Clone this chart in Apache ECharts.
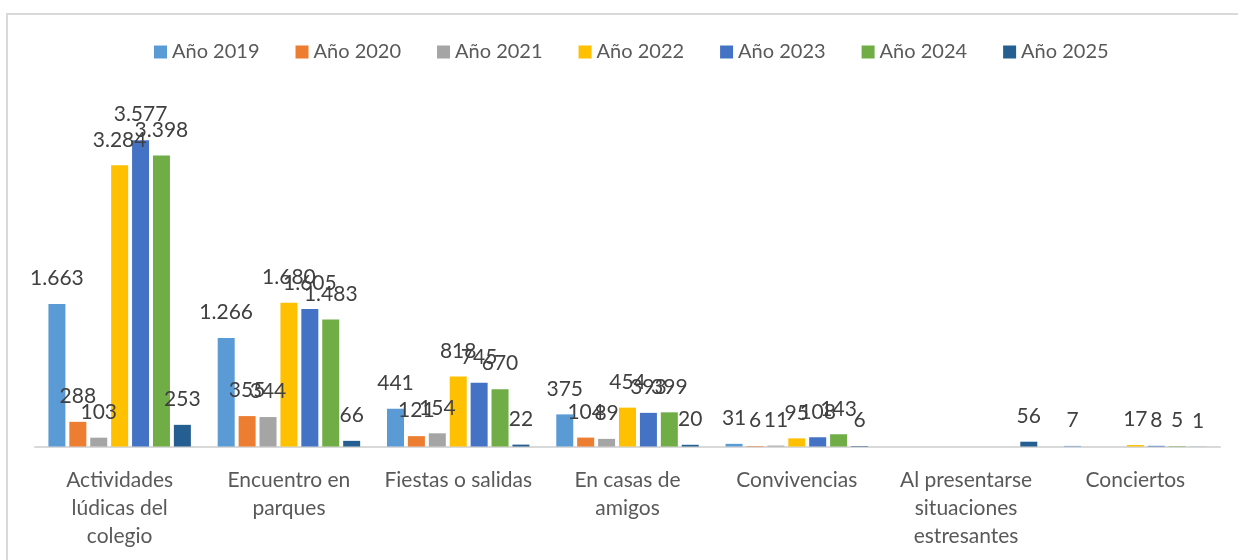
<!DOCTYPE html>
<html>
<head>
<meta charset="utf-8">
<script src="https://cdn.jsdelivr.net/npm/echarts@6/dist/echarts.min.js"></script>
<style>
  html, body { margin: 0; padding: 0; background: #fff; }
  .frame {
    position: absolute; left: 6px; top: 13px; width: 1260px; height: 580px;
    border-left: 2px solid #d9d9d9; border-top: 2px solid #d9d9d9;
  }
  .chart { position: absolute; left: 0; top: 0; width: 1238px; height: 560px; }
</style>
</head>
<body>
<div class="frame"></div>
<div class="chart" id="main"></div>
<script>
// categories (line breaks as in the original)
const categories = [
  "Actividades\nlúdicas del\ncolegio",
  "Encuentro en\nparques",
  "Fiestas o salidas",
  "En casas de\namigos",
  "Convivencias",
  "Al presentarse\nsituaciones\nestresantes",
  "Conciertos"
];
const years = ["Año 2019", "Año 2020", "Año 2021", "Año 2022", "Año 2023", "Año 2024", "Año 2025"];
const colors = ["#5B9BD5", "#ED7D31", "#A5A5A5", "#FFC000", "#4472C4", "#70AD47", "#255E91"];

const y2019 = [1663, 1266, 441, 375, 31, null, 7];
const y2020 = [288, 355, 121, 104, 6, null, null];
const y2021 = [103, 344, 154, 89, 11, null, null];
const y2022 = [3284, 1680, 818, 454, 95, null, 17];
const y2023 = [3577, 1605, 745, 393, 108, null, 8];
const y2024 = [3398, 1483, 670, 399, 143, null, 5];
const y2025 = [253, 66, 22, 20, 6, 56, 1];
const seriesData = [y2019, y2020, y2021, y2022, y2023, y2024, y2025];

const fmt = v => String(v).replace(/\B(?=(\d{3})+(?!\d))/g, ".");

const myChart = echarts.init(document.getElementById("main"));
myChart.setOption({
  animation: false,
  textStyle: { fontFamily: "Lato" },
  legend: {
    data: years,
    top: 37,
    left: 149,
    itemWidth: 13,
    itemHeight: 13,
    itemGap: 36,
    icon: "rect",
    textStyle: { fontFamily: "Lato", fontSize: 20, color: "#595959" }
  },
  grid: { left: 35, right: 18, top: 104, bottom: 113.5, containLabel: false },
  xAxis: {
    type: "category",
    data: categories,
    axisLine: { lineStyle: { color: "#d9d9d9", width: 2 } },
    axisTick: { show: false },
    axisLabel: {
      fontFamily: "Lato",
      fontSize: 21,
      color: "#595959",
      lineHeight: 28,
      margin: 20,
      interval: 0
    }
  },
  yAxis: {
    type: "value",
    min: 0,
    max: 4000,
    show: false,
    splitLine: { show: false }
  },
  series: years.map((name, i) => ({
    name: name,
    type: "bar",
    data: seriesData[i],
    barWidth: 17,
    barGap: "23%",
    itemStyle: { color: colors[i] },
    label: {
      show: true,
      position: "top",
      distance: 15,
      fontFamily: "Lato",
      fontSize: 21,
      color: "#404040",
      formatter: p => (p.value == null ? "" : fmt(p.value))
    }
  }))
});
</script>
</body>
</html>
